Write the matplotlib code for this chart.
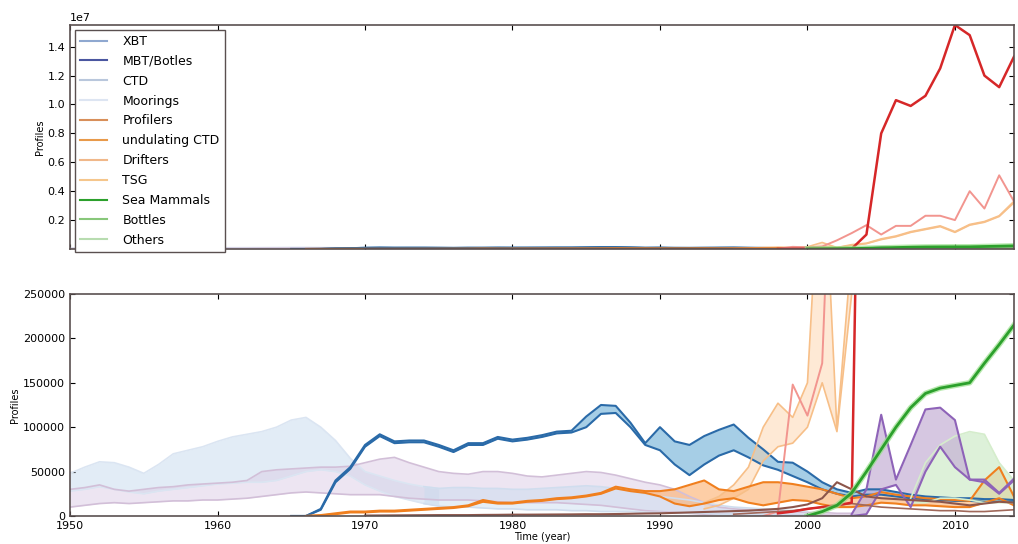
import numpy as np
import matplotlib
matplotlib.use("Agg")
import matplotlib.pyplot as plt
from matplotlib.lines import Line2D

# ---- data (profiles per year) ----
moor_start = 1950
moor_hi = [48000, 55000, 61000, 60000, 55000, 48000, 58000, 70000, 74000, 78000,
           84000, 89000, 92000, 95000, 100000, 108000, 111000, 100000, 85000, 65000,
           50000, 45000, 40000, 36000, 33000, 31000]
moor_lo = [28000, 30000, 33000, 30000, 27000, 25000, 28000, 30000, 32000, 34000,
           36000, 37000, 38000, 38000, 40000, 45000, 50000, 52000, 50000, 45000,
           35000, 28000, 22000, 18000, 14000, 12000]

lilac_start = 1950
lilac_hi = [30000, 32000, 35000, 30000, 28000, 30000, 32000, 33000, 35000, 36000,
            37000, 38000, 40000, 50000, 52000, 53000, 54000, 55000, 55000, 56000,
            60000, 64000, 66000, 60000, 55000, 50000, 48000, 47000, 50000, 50000,
            48000, 45000, 44000, 46000, 48000, 50000, 49000, 46000, 42000, 38000,
            35000, 30000, 22000, 15000, 10000, 8000, 7000, 6000, 5000, 5000,
            4000, 4000, 3000, 3000]
lilac_lo = [10000, 12000, 14000, 15000, 14000, 15000, 16000, 17000, 17000, 18000,
            18000, 19000, 20000, 22000, 24000, 26000, 27000, 26000, 25000, 24000,
            24000, 24000, 22000, 20000, 19000, 18000, 18000, 18000, 17000, 16000,
            15000, 15000, 15000, 15000, 14000, 13000, 12000, 10000, 8000, 6000,
            5000, 4000, 3000, 2000, 2000, 1500, 1500, 1000, 1000, 1000,
            1000, 1000, 500, 500]

ctd_start = 1974
ctd_hi = [33000, 31000, 32000, 32000, 31000, 31000,
          30000, 30000, 31000, 32000, 33000, 34000, 33000, 31000, 28000, 25000,
          22000, 20000, 18000, 15000, 12000, 10000, 9000, 8000, 7000, 6000, 5000]
ctd_lo = [14000, 11000, 10000, 10000, 9000, 8000,
          8000, 7000, 7000, 7000, 6000, 6000, 5000, 5000, 5000, 4000,
          4000, 3000, 3000, 3000, 2000, 2000, 2000, 2000, 2000, 1000, 1000]

xbt_start = 1965
xbt_hi = [0, 0, 8000, 40000, 55000, 80000, 92000, 84000, 85000, 85000,
          80000, 74000, 82000, 82000, 89000, 86000, 88000, 91000, 95000, 96000,
          112000, 125000, 124000, 105000, 82000, 100000, 84000, 80000, 90000, 97000,
          103000, 88000, 75000, 61000, 60000, 50000, 38000, 30000, 26000, 30000,
          30000, 27000, 24000, 22000, 21000, 20000, 20000, 19000, 19000, 18000]
xbt_lo = [0, 0, 7000, 38000, 53000, 78000, 90000, 82000, 83000, 83000,
          78000, 72000, 80000, 80000, 87000, 84000, 86000, 89000, 93000, 94000,
          100000, 115000, 116000, 100000, 80000, 74000, 58000, 46000, 58000, 68000,
          74000, 66000, 57000, 52000, 45000, 38000, 30000, 25000, 22000, 24000,
          24000, 22000, 20000, 19000, 18000, 17000, 17000, 16000, 16000, 16000]

prof_start = 1966
prof_hi = [0, 1000, 3000, 5000, 5000, 6000, 6000, 7000, 8000, 9000,
           10000, 12000, 18000, 15000, 15000, 17000, 18000, 20000, 21000, 23000,
           26000, 33000, 30000, 28000, 28000, 30000, 35000, 40000, 30000, 28000,
           33000, 38000, 38000, 36000, 33000, 30000, 25000, 20000, 22000, 27000,
           24000, 22000, 20000, 19000, 18000, 17000, 40000, 55000, 22000]
prof_lo = [0, 500, 2000, 4000, 4000, 5000, 5000, 6000, 7000, 8000,
           9000, 11000, 16000, 14000, 14000, 16000, 17000, 19000, 20000, 22000,
           25000, 31000, 28000, 26000, 22000, 14000, 11000, 14000, 18000, 20000,
           15000, 12000, 15000, 18000, 17000, 13000, 10000, 10000, 12000, 15000,
           14000, 12000, 12000, 11000, 10000, 10000, 15000, 20000, 12000]

drift_start = 1993
drift_hi = [15000, 22000, 35000, 55000, 100000, 127000, 111000, 150000, 450000, 97000,
            300000, 400000, 700000, 900000, 1200000, 1400000, 1600000, 1200000, 1700000,
            1900000, 2300000, 3300000]
drift_lo = [8000, 12000, 20000, 30000, 62000, 78000, 82000, 100000, 150000, 95000,
            250000, 370000, 650000, 850000, 1150000, 1350000, 1550000, 1150000, 1650000,
            1850000, 2250000, 3200000]

pink_start = 1997
pink = [0, 5000, 148000, 113000, 172000, 600000, 1100000, 1650000, 1000000, 1600000,
        1600000, 2300000, 2300000, 2000000, 4000000, 2800000, 5100000, 3300000]

argo_start = 1998
argo = [3000, 5000, 8000, 10000, 12000, 15000, 1000000, 8000000, 10300000, 9900000,
        10600000, 12500000, 15500000, 14800000, 12000000, 11200000, 13300000]

seal_start = 2000
seal = [0, 5000, 12000, 26000, 50000, 75000, 100000, 122000, 138000, 144000,
        147000, 150000, 172000, 193000, 215000]

purple_start = 2003
purple_hi = [2000, 30000, 114000, 41000, 80000, 120000, 122000, 108000, 41000, 41000, 26000, 42000]
purple_lo = [0, 2000, 30000, 35000, 10000, 50000, 78000, 55000, 41000, 38000, 25000, 40000]

lgreen_start = 2007
lgreen_hi = [20000, 60000, 80000, 90000, 95000, 92000, 60000, 40000]
lgreen_lo = [15000, 15000, 20000, 20000, 18000, 15000, 15000, 15000]

brown_start = 1970
brown = [500, 600, 700, 800, 900, 1000, 1000, 1000, 1200, 1300,
         1500, 1500, 1600, 1700, 1800, 2000, 2000, 2200, 2500, 2800,
         3000, 3500, 4000, 4500, 5000, 5500, 6000, 7000, 8000, 10000,
         13000, 20000, 38000, 30000, 22000, 20000, 19000, 18000, 17000, 16000,
         14000, 12000, 14000, 16000, 15000]
brown2_start = 1995
brown2 = [2000, 3000, 4000, 5000, 6000, 8000, 10000, 12000, 14000, 12000,
          10000, 9000, 8000, 7000, 6000, 6000, 5000, 5000, 6000, 7000]

labels = ["XBT", "MBT/Botles", "CTD", "Moorings", "Profilers", "undulating CTD",
          "Drifters", "TSG", "Sea Mammals", "Bottles", "Others"]
legend_colors = ["#8fa8d0", "#4a56a0", "#b9c7dc", "#dde5f2", "#d88f5a", "#e89a4a",
                 "#f0b88a", "#f5c68c", "#2ca02c", "#88c77a", "#b8dcb0"]


def yrs(start, vals):
    return np.arange(start, start + len(vals))


def band(ax, start, lo, hi, edge, fill, alpha=0.5, lw=1.2):
    x = yrs(start, hi)
    ax.fill_between(x, lo, hi, color=fill, alpha=alpha, lw=0)
    ax.plot(x, hi, color=edge, lw=lw)
    ax.plot(x, lo, color=edge, lw=lw)


def draw(ax):
    band(ax, moor_start, moor_lo, moor_hi, "#dbe5f2", "#c6dbef", alpha=0.5)
    band(ax, lilac_start, lilac_lo, lilac_hi, "#d2bfd8", "#dccde6", alpha=0.5)
    band(ax, ctd_start, ctd_lo, ctd_hi, "#d0ddee", "#c6dbef", alpha=0.45)
    band(ax, xbt_start, xbt_lo, xbt_hi, "#2a6aa8", "#6baed6", alpha=0.6, lw=1.5)
    band(ax, drift_start, drift_lo, drift_hi, "#f7bf88", "#fdd0a2", alpha=0.45, lw=1.2)
    band(ax, prof_start, prof_lo, prof_hi, "#f07f1e", "#fdae6b", alpha=0.6, lw=1.5)
    ax.plot(yrs(pink_start, pink), pink, color="#f2958f", lw=1.4)
    band(ax, lgreen_start, lgreen_lo, lgreen_hi, "#d5edcc", "#c7e9c0", alpha=0.6)
    band(ax, purple_start, purple_lo, purple_hi, "#8e63b8", "#c5b0d5", alpha=0.7, lw=1.5)
    ax.plot(yrs(brown_start, brown), brown, color="#8c564b", lw=1.5)
    ax.plot(yrs(brown2_start, brown2), brown2, color="#a0685a", lw=1.2)
    ax.plot(yrs(argo_start, argo), argo, color="#d62728", lw=1.8)
    ax.plot(yrs(seal_start, seal), seal, color="#98df8a", lw=4, alpha=0.7)
    ax.plot(yrs(seal_start, seal), seal, color="#2ca02c", lw=2)


plt.rcParams.update({
    "font.family": "DejaVu Sans",
    "font.size": 8,
    "xtick.direction": "in",
    "ytick.direction": "in",
    "xtick.top": True,
    "ytick.right": True,
    "axes.edgecolor": "#5a5050",
    "axes.linewidth": 1.2,
})

fig = plt.figure(figsize=(10.18, 5.44), dpi=100)
ax1 = fig.add_axes([0.0688, 0.5423, 0.9272, 0.4117])
ax2 = fig.add_axes([0.0688, 0.0515, 0.9272, 0.4081])

draw(ax1)
draw(ax2)

for ax in (ax1, ax2):
    ax.set_xlim(1950, 2014)
    ax.set_xticks(np.arange(1950, 2011, 10))
    ax.set_ylabel("Profiles", fontsize=7, labelpad=2)

ax1.set_ylim(0, 1.55e7)
ax1.set_yticks([0.2e7, 0.4e7, 0.6e7, 0.8e7, 1.0e7, 1.2e7, 1.4e7])
ax1.set_xticklabels([])

ax2.set_ylim(0, 250000)
ax2.set_yticks(np.arange(0, 250001, 50000))
ax2.set_xlabel("Time (year)", fontsize=7, labelpad=1)

handles = [Line2D([], [], color=c, lw=1.5) for c in legend_colors]
leg = ax1.legend(handles, labels, loc="upper left", bbox_to_anchor=(0.005, 0.978),
                 borderaxespad=0, fontsize=9, labelspacing=0.55, fancybox=False,
                 framealpha=1, handlelength=2.2, handletextpad=1.2)
leg.get_frame().set_edgecolor("#5a5050")

fig.savefig("out.png", dpi=100)
